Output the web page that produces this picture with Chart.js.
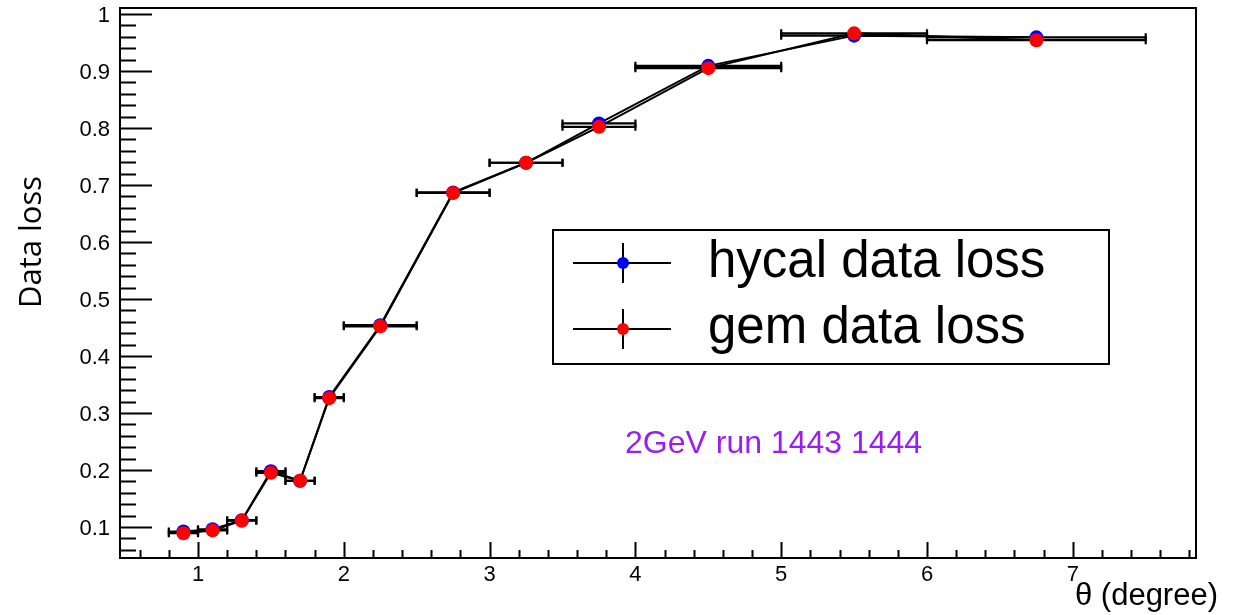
<!DOCTYPE html>
<html>
<head>
<meta charset="utf-8">
<script src="https://cdn.jsdelivr.net/npm/chart.js@4.4.0/dist/chart.umd.min.js"></script>
<style>
html, body { margin: 0; padding: 0; background: #fff; }
#chart { display: block; }
</style>
</head>
<body>
<canvas id="chart" width="1234" height="615"></canvas>
<script>
// theta bins (degree): centre and half width
var thetaCenters = [0.9, 1.1, 1.3, 1.5, 1.7, 1.9, 2.25, 2.75, 3.25, 3.75, 4.5, 5.5, 6.75];
var thetaHalfWidths = [0.1, 0.1, 0.1, 0.1, 0.1, 0.1, 0.25, 0.25, 0.25, 0.25, 0.5, 0.5, 0.75];

// data loss per bin
var hycalLoss = [0.092, 0.096, 0.112, 0.198, 0.181, 0.328, 0.454, 0.687, 0.739, 0.808, 0.909, 0.962, 0.959];
var gemLoss   = [0.089, 0.094, 0.111, 0.195, 0.181, 0.326, 0.452, 0.686, 0.739, 0.802, 0.905, 0.966, 0.954];

// axis ticks
var xTickValues = [1, 2, 3, 4, 5, 6, 7];
var xTickLabels = ["1", "2", "3", "4", "5", "6", "7"];
var yTickValues = [0.1, 0.2, 0.3, 0.4, 0.5, 0.6, 0.7, 0.8, 0.9, 1];
var yTickLabels = ["0.1", "0.2", "0.3", "0.4", "0.5", "0.6", "0.7", "0.8", "0.9", "1"];

var seriesNames = ["hycal data loss", "gem data loss"];
var seriesColors = ["#0000ff", "#ff0000"];

function toPoints(ys) {
    return thetaCenters.map(function (x, i) { return {x: x, y: ys[i]}; });
}

// Horizontal error bars, drawn under the markers
var errorBars = {
    id: "errorBars",
    beforeDatasetsDraw: function (chart) {
        var ctx = chart.ctx, xs = chart.scales.x, ys = chart.scales.y;
        ctx.save();
        ctx.strokeStyle = "#000";
        ctx.lineWidth = 2.2;
        [hycalLoss, gemLoss].forEach(function (vals) {
            thetaCenters.forEach(function (c, i) {
                var x1 = xs.getPixelForValue(c - thetaHalfWidths[i]);
                var x2 = xs.getPixelForValue(c + thetaHalfWidths[i]);
                var y = ys.getPixelForValue(vals[i]);
                ctx.beginPath();
                ctx.moveTo(x1, y); ctx.lineTo(x2, y);
                ctx.moveTo(x1, y - 4); ctx.lineTo(x1, y + 4);
                ctx.moveTo(x2, y - 4); ctx.lineTo(x2, y + 4);
                ctx.stroke();
            });
        });
        ctx.restore();
    }
};

// ROOT style frame, inward ticks, labels, legend and text
var rootFrame = {
    id: "rootFrame",
    afterDraw: function (chart) {
        var ctx = chart.ctx, a = chart.chartArea;
        var xs = chart.scales.x, ys = chart.scales.y;
        ctx.save();
        ctx.strokeStyle = "#000";
        ctx.lineWidth = 2;
        ctx.strokeRect(a.left, a.top, a.right - a.left, a.bottom - a.top);

        // x ticks
        ctx.beginPath();
        for (var k = 3; k <= 39; k++) {
            var v = k * 0.2;
            var px = Math.round(xs.getPixelForValue(v)) + 0.5;
            if (px < a.left || px > a.right) continue;
            var len = (k % 5 === 0) ? 16 : 8;
            ctx.moveTo(px, a.bottom); ctx.lineTo(px, a.bottom - len);
        }
        // y ticks
        for (var j = 3; j <= 50; j++) {
            var yv = j * 0.02;
            var py = Math.round(ys.getPixelForValue(yv)) + 0.5;
            if (py < a.top || py > a.bottom) continue;
            var ylen = (j % 5 === 0) ? 32 : 16;
            ctx.moveTo(a.left, py); ctx.lineTo(a.left + ylen, py);
        }
        ctx.stroke();

        ctx.fillStyle = "#000";
        ctx.font = "22px 'Liberation Sans', Arial, sans-serif";
        ctx.textAlign = "center";
        ctx.textBaseline = "alphabetic";
        xTickValues.forEach(function (v, i) {
            ctx.fillText(xTickLabels[i], xs.getPixelForValue(v), 581);
        });
        ctx.textAlign = "right";
        yTickValues.forEach(function (v, i) {
            ctx.fillText(yTickLabels[i], 110, ys.getPixelForValue(v) + 8);
        });

        // axis titles
        ctx.font = "31px 'Liberation Sans', Arial, sans-serif";
        ctx.textAlign = "right";
        ctx.fillText("\u03b8 (degree)", 1218, 605);

        ctx.save();
        ctx.translate(41, 242);
        ctx.rotate(-Math.PI / 2);
        ctx.textAlign = "center";
        ctx.font = "31px 'Open Sans', sans-serif";
        ctx.fillText("Data loss", 0, 0);
        ctx.restore();

        // run label
        ctx.fillStyle = "#9a1ef2";
        ctx.textAlign = "left";
        ctx.font = "32px 'Liberation Sans', Arial, sans-serif";
        ctx.fillText("2GeV run 1443 1444", 625, 453);

        // legend
        ctx.fillStyle = "#fff";
        ctx.fillRect(553, 230, 556, 134);
        ctx.strokeStyle = "#000";
        ctx.lineWidth = 2;
        ctx.strokeRect(553, 230, 556, 134);
        var rows = [263, 329], baselines = [277, 343];
        seriesNames.forEach(function (name, i) {
            var y = rows[i];
            ctx.beginPath();
            ctx.lineWidth = 2;
            ctx.moveTo(573, y); ctx.lineTo(671, y);
            ctx.moveTo(623, y - 20); ctx.lineTo(623, y + 20);
            ctx.stroke();
            ctx.fillStyle = seriesColors[i];
            ctx.beginPath();
            ctx.arc(623, y, 6, 0, Math.PI * 2);
            ctx.fill();
            ctx.fillStyle = "#000";
            ctx.font = "51px 'Liberation Sans', Arial, sans-serif";
            ctx.fillText(name, 708, baselines[i]);
        });
        ctx.restore();
    }
};

var ctx1 = document.getElementById("chart").getContext("2d");
var myChart = new Chart(ctx1, {
    type: "scatter",
    data: {
        datasets: [{
                label: seriesNames[0],
                data: toPoints(hycalLoss),
                showLine: true,
                borderColor: "#000",
                borderWidth: 2,
                pointRadius: 7,
                pointBorderWidth: 0,
                pointBackgroundColor: seriesColors[0],
                order: 2
            },
            {
                label: seriesNames[1],
                data: toPoints(gemLoss),
                showLine: true,
                borderColor: "#000",
                borderWidth: 2,
                pointRadius: 7,
                pointBorderWidth: 0,
                pointBackgroundColor: seriesColors[1],
                order: 1
            }
        ]
    },
    options: {
        responsive: false,
        animation: false,
        layout: {
            padding: {left: 120, right: 38, top: 8, bottom: 57}
        },
        scales: {
            x: {type: "linear", min: 0.465, max: 7.845, display: false},
            y: {type: "linear", min: 0.0456, max: 1.0105, display: false}
        },
        plugins: {
            legend: {display: false},
            tooltip: {enabled: false}
        }
    },
    plugins: [errorBars, rootFrame]
});
</script>
</body>
</html>
